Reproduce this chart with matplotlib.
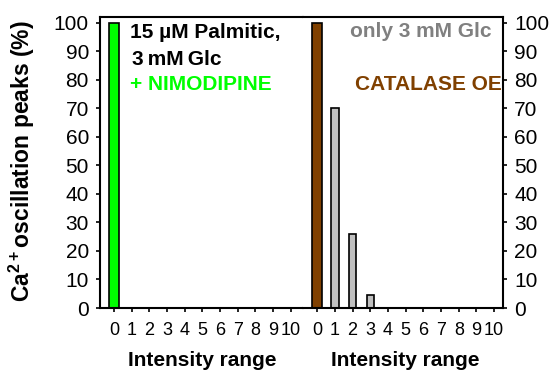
import matplotlib
matplotlib.use("Agg")
import matplotlib.pyplot as plt
import numpy as np

plt.rcParams['font.family'] = ['Liberation Sans', 'DejaVu Sans']
plt.rcParams['mathtext.fontset'] = 'custom'
plt.rcParams['mathtext.rm'] = 'Liberation Sans'
plt.rcParams['mathtext.bf'] = 'Liberation Sans:bold'

categories = list(range(11))
tick_labels = [str(c) for c in categories]
nimodipine = [100, 0, 0, 0, 0, 0, 0, 0, 0, 0, 0]
catalase_oe = [100, 0, 0, 0, 0, 0, 0, 0, 0, 0, 0]
only_glc = [0, 70, 26, 4.5, 0, 0, 0, 0, 0, 0, 0]
yticks = list(range(0, 101, 10))

W, H = 558, 370
fig = plt.figure(figsize=(W / 100, H / 100), dpi=100)

def fx(px):
    return px / W

def fy(py):
    return 1 - py / H

bot = (H - 308) / H
ht = (308 - 17) / H
ax1 = fig.add_axes([fx(100), bot, 203 / W, ht])
ax2 = fig.add_axes([fx(303), bot, 200 / W, ht])

x = np.array(categories)
ax1.bar(x, nimodipine, width=0.6, color='#00ff00', edgecolor='black', linewidth=1.2)
ax2.bar(x, catalase_oe, width=0.6, color='#804000', edgecolor='black', linewidth=1.2)
ax2.bar(x, only_glc, width=0.42, color='#c0c0c0', edgecolor='black', linewidth=1.2)

for ax, xr in ((ax1, (-0.8, 10.7)), (ax2, (-0.8, 10.5))):
    ax.set_xlim(*xr)
    ax.set_ylim(0, 102)
    ax.set_xticks(x)
    ax.set_xticklabels(tick_labels, fontsize=13)
    ax.set_yticks(yticks)
    ax.tick_params(axis='x', direction='out', length=3, width=1.2, pad=7)
    ax.tick_params(axis='y', direction='out', length=3, width=1.2, labelsize=15, pad=5)
    for s in ax.spines.values():
        s.set_linewidth(1.5)

ax1.spines['right'].set_visible(False)
ax2.spines['left'].set_visible(False)
ax2.yaxis.tick_right()
ax2.tick_params(axis='y', which='both', left=False, right=True)

fig.text(fx(22), fy(161), 'Ca$^{\\mathbf{2+}}$oscillation peaks (%)', rotation=90,
         fontsize=16.5, fontweight='bold', ha='center', va='center')
fig.text(fx(202), fy(360), 'Intensity range', fontsize=15, fontweight='bold',
         ha='center', va='center')
fig.text(fx(405), fy(360), 'Intensity range', fontsize=15, fontweight='bold',
         ha='center', va='center')

fig.text(fx(130), fy(38), '15 \u00b5M Palmitic,', fontsize=15,
         fontweight='bold', color='black', va='baseline', ha='left')
fig.text(fx(132), fy(65), '3\u2009mM\u2009Glc', fontsize=15,
         fontweight='bold', color='black', va='baseline', ha='left')
fig.text(fx(130), fy(90), '+ NIMODIPINE', fontsize=15,
         fontweight='bold', color='#00ff00', va='baseline', ha='left')
fig.text(fx(492), fy(37), 'only 3 mM Glc', fontsize=15,
         fontweight='bold', color='#808080', va='baseline', ha='right')
fig.text(fx(502), fy(90), 'CATALASE OE', fontsize=15,
         fontweight='bold', color='#804000', va='baseline', ha='right')

fig.savefig('out.png', dpi=100)
